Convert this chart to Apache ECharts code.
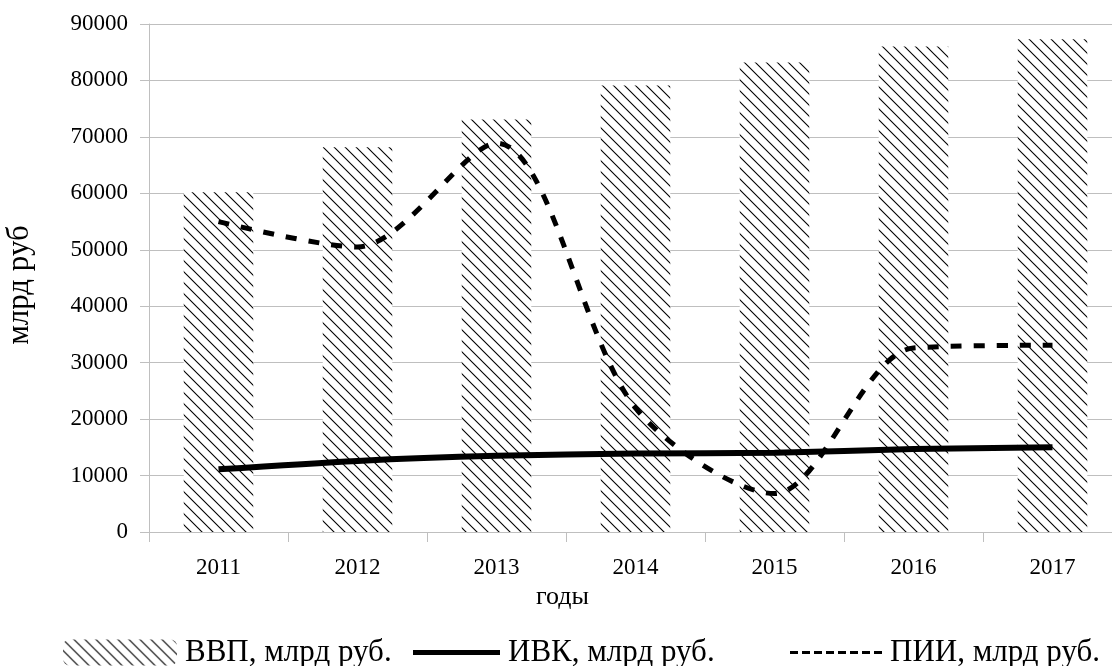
<!DOCTYPE html>
<html>
<head>
<meta charset="utf-8">
<script src="https://cdn.jsdelivr.net/npm/echarts@6/dist/echarts.min.js"></script>
<style>
html,body{margin:0;padding:0;background:#fff;}
#chart{width:1112px;height:666px;}
</style>
</head>
<body>
<div id="chart"></div>
<script>
const categories = ['2011','2012','2013','2014','2015','2016','2017'];
const vvp = [60200, 68160, 73100, 79100, 83200, 86000, 87300];
const ivk = [11100, 12600, 13500, 13900, 14050, 14700, 15000];
const pii = [55000, 50500, 68900, 22000, 6800, 32600, 33100];
const yTicks = { min: 0, max: 90000, interval: 10000 };

function hatch() {
  const s = 11;
  const c = document.createElement('canvas');
  c.width = s; c.height = s;
  const g = c.getContext('2d');
  g.fillStyle = '#ffffff';
  g.fillRect(0, 0, s, s);
  g.strokeStyle = '#000000';
  g.lineWidth = 1.1;
  g.beginPath();
  for (const k of [-s, 0, s]) {
    g.moveTo(-2 + k, -2);
    g.lineTo(s + 2 + k, s + 2);
  }
  g.stroke();
  return { image: c, repeat: 'repeat' };
}

// legend icons for the line series (solid bar and dashed bar)
const solidIcon = 'path://M0,0 L87,0 L87,5 L0,5 Z';
let dashPath = '';
for (let i = 0; i < 8; i++) {
  const x = i * 12;
  dashPath += 'M' + x + ',0 L' + (x + 8) + ',0 L' + (x + 8) + ',3 L' + x + ',3 Z ';
}
const dashedIcon = 'path://' + dashPath.trim();

const font = 'Liberation Serif';
const grey = '#bfbfbf';
const chart = echarts.init(document.getElementById('chart'));
const legendText = { fontFamily: font, fontSize: 31, color: '#000', padding: [0, 0, 0, 3] };
chart.setOption({
  animation: false,
  backgroundColor: '#fff',
  grid: { left: 149, right: -10, top: 24, bottom: 134, containLabel: false, outerBoundsMode: 'none' },
  legend: [
    { data: ['ВВП, млрд руб.'], left: 58, top: 632, itemWidth: 114, itemHeight: 26, textStyle: legendText },
    { data: [{ name: 'ИВК, млрд руб.', icon: solidIcon }], left: 408, top: 632, itemWidth: 87, itemHeight: 5,
      textStyle: legendText },
    { data: [{ name: 'ПИИ, млрд руб.', icon: dashedIcon }], left: 785, top: 632, itemWidth: 92, itemHeight: 3,
      textStyle: legendText }
  ],
  xAxis: {
    type: 'category',
    data: categories,
    name: 'годы',
    nameLocation: 'middle',
    nameGap: 52,
    nameTextStyle: { fontFamily: font, fontSize: 26, color: '#000', padding: [0, 146, 0, 0] },
    axisLine: { show: true, lineStyle: { color: grey, width: 1 } },
    axisTick: { show: true, length: 10, interval: 0, lineStyle: { color: grey } },
    axisLabel: { fontFamily: font, fontSize: 23, color: '#000', margin: 24, interval: 0 },
    splitLine: { show: false }
  },
  yAxis: {
    type: 'value',
    min: yTicks.min, max: yTicks.max, interval: yTicks.interval,
    name: 'млрд руб',
    nameLocation: 'middle',
    nameGap: 114,
    nameRotate: 90,
    nameTextStyle: { fontFamily: font, fontSize: 31, color: '#000', padding: [0, 14, 0, 0] },
    axisLine: { show: true, lineStyle: { color: grey, width: 1 } },
    axisTick: { show: true, length: 9, lineStyle: { color: grey } },
    axisLabel: { fontFamily: font, fontSize: 23, color: '#000', margin: 21, formatter: v => String(v) },
    splitLine: { show: true, lineStyle: { color: grey, width: 1 } }
  },
  series: [
    { name: 'ВВП, млрд руб.', type: 'bar', data: vvp, barWidth: '50%',
      itemStyle: { color: hatch() } },
    { name: 'ИВК, млрд руб.', type: 'line', data: ivk, smooth: 0.3, symbol: 'none',
      lineStyle: { color: '#000', width: 6 }, itemStyle: { color: '#000' } },
    { name: 'ПИИ, млрд руб.', type: 'line', data: pii, smooth: 0.3, symbol: 'none',
      lineStyle: { color: '#000', width: 5, type: [11, 12] }, itemStyle: { color: '#000' } }
  ]
});
</script>
</body>
</html>
